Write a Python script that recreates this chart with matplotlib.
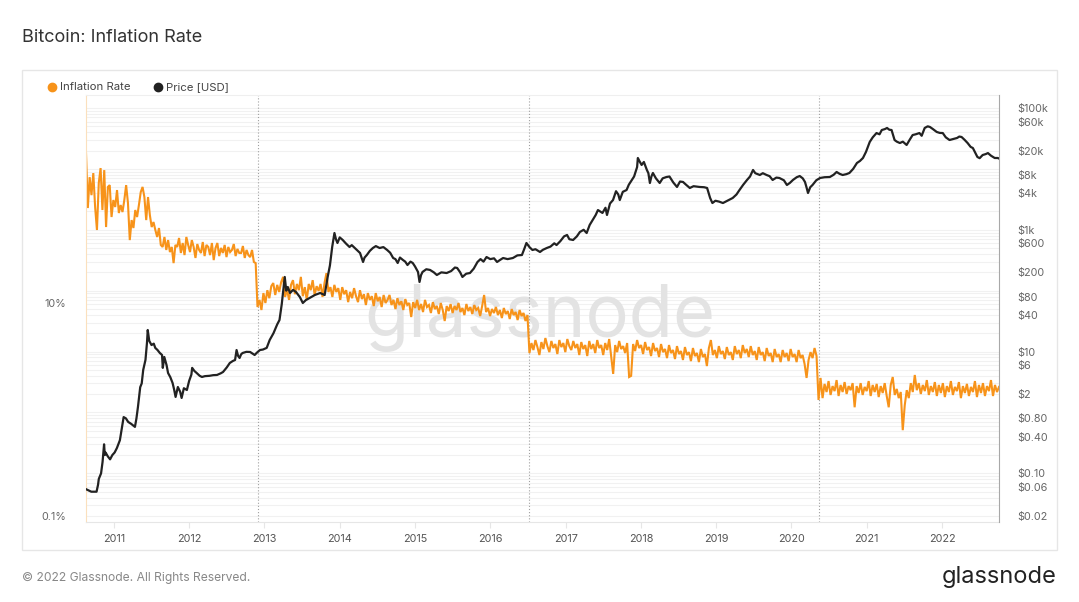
import matplotlib
matplotlib.use('Agg')
import matplotlib.pyplot as plt
import numpy as np
from matplotlib.lines import Line2D
from matplotlib.patches import Rectangle

plt.rcParams['font.family'] = ['Inter', 'DejaVu Sans']

# ---------------- data ----------------
halvings = [2012.908, 2016.52, 2020.36]
x_start, x_end = 2010.63, 2022.757
year_ticks = list(range(2011, 2023))
year_labels = [str(y) for y in year_ticks]

infl_ticks = [0.1, 10]
infl_tick_labels = ['0.1%', '10%']

price_ticks = [1e5, 6e4, 2e4, 8e3, 4e3, 1e3, 600, 200, 80, 40, 10, 6, 2, 0.8, 0.4, 0.1, 0.06, 0.02]
price_tick_labels = ['$100k', '$60k', '$20k', '$8k', '$4k', '$1k', '$600', '$200', '$80', '$40',
                     '$10', '$6', '$2', '$0.80', '$0.40', '$0.10', '$0.06', '$0.02']

# Inflation rate (%) per halving era, sampled evenly through each era
infl_era1 = [256, 78.0, 152, 103, 166, 79.7, 48.5, 134, 185, 74.7, 177, 51.7, 123, 128, 64.2, 92.7,
             79.7, 115, 70.0, 83.2, 71.5, 92.7, 128, 86.8, 39.0, 60.1, 50.6, 74.7, 64.2, 83.2, 110, 123,
             98.9, 60.1, 98.9, 67.0, 51.7, 57.6, 48.5, 41.7, 50.6, 35.1, 33.6, 41.7, 31.5, 39.0, 30.1,
             33.6, 23.7, 35.1, 33.6, 40.8, 29.5, 36.6, 28.2, 41.7, 35.1, 30.1, 39.0, 33.6, 26.5, 35.8,
             31.5, 29.5, 37.4, 27.6, 35.1, 33.6, 28.2, 36.6, 25.3, 32.9, 36.6, 27.6, 32.9, 29.5, 35.1,
             27.0, 33.6, 30.1, 31.5, 35.8, 27.6, 32.2, 29.5, 29.5, 34.3, 26.5, 31.5, 28.2, 27.0, 31.5,
             24.3, 23.7]
infl_era2 = [9.17, 10.7, 8.60, 12.4, 10.0, 13.2, 11.1, 14.4, 15.4, 11.9, 14.8, 12.7, 15.7, 17.6, 11.4,
             13.5, 10.7, 14.8, 16.4, 12.1, 15.1, 13.2, 17.6, 11.6, 14.1, 10.7, 15.1, 13.2, 16.4, 11.9,
             14.4, 13.0, 15.1, 11.4, 15.4, 19.1, 12.7, 14.1, 11.4, 14.8, 12.7, 13.8, 10.7, 14.1, 12.1,
             13.2, 10.2, 12.7, 11.1, 13.8, 11.6, 10.2, 13.2, 10.9, 12.1, 9.58, 12.4, 10.7, 11.6, 9.37,
             12.4, 10.4, 11.4, 9.17, 11.9, 10.0, 10.7, 11.9, 9.58, 10.7, 8.78, 11.1, 9.58, 10.4, 8.60,
             10.9, 9.58, 10.0, 7.39, 10.2, 8.98, 10.7, 8.60, 9.79, 8.23, 10.7, 9.17, 9.58, 8.06, 10.2,
             8.78, 9.37, 7.88, 10.0, 8.60, 6.78, 9.37, 8.41, 9.79, 8.06, 9.37, 8.60, 10.0, 8.23, 8.98,
             7.71, 9.79, 8.41, 9.17, 7.88, 9.58, 8.60, 8.98, 7.55, 9.37, 11.9, 8.23, 8.98, 7.55, 8.78,
             8.06, 9.17, 7.71, 8.60, 7.23, 8.98, 7.88, 8.41, 7.08, 8.78, 7.71, 8.23, 6.92, 8.60, 7.55,
             8.06, 6.78, 7.71]
infl_era3 = [3.39, 4.21, 3.62, 4.49, 3.86, 3.25, 4.30, 3.70, 4.69, 3.94, 3.46, 4.40, 3.78, 4.12, 3.32,
             4.49, 3.86, 4.21, 3.46, 4.59, 3.94, 3.62, 4.40, 3.78, 4.12, 3.25, 4.30, 3.70, 4.03, 3.18,
             4.40, 3.70, 4.12, 3.39, 4.49, 3.78, 4.03, 3.25, 4.21, 3.62, 4.59, 3.18, 2.16, 4.03, 3.46,
             4.40, 3.70, 3.94, 3.39, 4.21, 2.02, 2.07, 4.12, 3.54, 4.49, 3.78, 4.03, 3.32, 4.30, 3.62,
             3.86, 3.18, 4.21, 3.54, 3.78, 3.11, 4.12, 3.46, 3.70, 3.04, 4.03, 3.39, 3.62, 2.98, 3.94,
             3.32, 3.54, 2.92, 3.86, 3.25, 3.46, 2.85, 3.78, 3.18, 3.39, 2.79, 3.70, 3.11, 3.32, 2.56,
             3.78, 4.49, 3.25, 3.62, 3.04, 3.94, 3.32, 3.54, 2.98, 3.86, 3.25, 3.46, 2.92, 3.94, 3.32,
             3.62, 3.04, 4.03, 3.39, 3.70, 3.11, 3.94, 3.25, 3.54, 2.92, 3.86, 3.25, 3.46, 2.85, 3.78,
             3.18, 3.39, 2.79, 3.70, 3.11, 3.32, 2.79, 3.62, 3.11, 3.39, 2.85, 3.70, 3.11, 3.32, 2.79,
             3.62, 3.04, 3.25, 2.68, 1.98, 2.92, 3.46, 3.04, 3.78, 3.18]
infl_era4 = [1.23, 1.98, 1.28, 1.74, 1.46, 1.85, 1.37, 1.66, 1.49, 1.89, 1.34, 1.70, 1.46, 1.81, 1.40,
             1.66, 1.52, 1.77, 1.05, 1.66, 1.43, 1.77, 1.37, 1.63, 1.49, 1.85, 1.34, 1.70, 1.46, 1.74,
             1.31, 1.66, 1.43, 1.77, 1.34, 1.05, 1.70, 2.02, 1.37, 1.56, 1.28, 1.46, 0.64, 1.10, 1.52,
             1.28, 1.77, 1.46, 2.11, 1.52, 1.77, 1.40, 1.70, 1.49, 1.89, 1.37, 1.66, 1.46, 1.81, 1.34,
             1.70, 1.43, 1.77, 1.31, 1.66, 1.46, 1.85, 1.37, 1.63, 1.49, 1.81, 1.28, 1.66, 1.43, 1.74,
             1.34, 1.63, 1.46, 1.85, 1.31, 1.70, 1.43, 1.77, 1.34, 1.66, 1.49, 1.89, 1.34, 1.70, 1.46,
             1.63]

price_years = [2010.63, 2010.70, 2010.77, 2010.79, 2010.80, 2010.83, 2010.85, 2010.87, 2010.88, 2010.89,
               2010.92, 2010.95, 2010.98, 2011.01, 2011.04, 2011.08, 2011.10, 2011.13, 2011.16, 2011.19,
               2011.23, 2011.28, 2011.30, 2011.32, 2011.35, 2011.37, 2011.39, 2011.42, 2011.44, 2011.45,
               2011.47, 2011.50, 2011.53, 2011.55, 2011.58, 2011.61, 2011.64, 2011.65, 2011.67, 2011.70,
               2011.72, 2011.75, 2011.78, 2011.80, 2011.82, 2011.84, 2011.85, 2011.88, 2011.90, 2011.93,
               2011.97, 2012.00, 2012.03, 2012.04, 2012.07, 2012.10, 2012.14, 2012.17, 2012.21, 2012.27,
               2012.32, 2012.37, 2012.42, 2012.45, 2012.50, 2012.54, 2012.58, 2012.61, 2012.63, 2012.65,
               2012.67, 2012.69, 2012.71, 2012.76, 2012.81, 2012.84, 2012.87, 2012.90, 2012.94, 2012.98,
               2013.03, 2013.07, 2013.12, 2013.17, 2013.20, 2013.23, 2013.25, 2013.27, 2013.29, 2013.31,
               2013.34, 2013.38, 2013.42, 2013.47, 2013.51, 2013.55, 2013.60, 2013.67, 2013.74, 2013.80,
               2013.84, 2013.87, 2013.90, 2013.93, 2013.95, 2013.97, 2014.00, 2014.04, 2014.08, 2014.13,
               2014.16, 2014.20, 2014.24, 2014.27, 2014.31, 2014.33, 2014.36, 2014.40, 2014.44, 2014.48,
               2014.53, 2014.58, 2014.63, 2014.67, 2014.71, 2014.74, 2014.77, 2014.80, 2014.84, 2014.87,
               2014.90, 2014.94, 2014.97, 2015.00, 2015.04, 2015.06, 2015.08, 2015.10, 2015.15, 2015.20,
               2015.25, 2015.29, 2015.35, 2015.42, 2015.48, 2015.53, 2015.56, 2015.60, 2015.63, 2015.68,
               2015.73, 2015.78, 2015.83, 2015.87, 2015.91, 2015.95, 2016.00, 2016.05, 2016.09, 2016.13,
               2016.17, 2016.23, 2016.30, 2016.36, 2016.42, 2016.45, 2016.48, 2016.52, 2016.56, 2016.60,
               2016.66, 2016.70, 2016.75, 2016.80, 2016.85, 2016.88, 2016.93, 2016.98, 2017.02, 2017.05,
               2017.10, 2017.15, 2017.19, 2017.24, 2017.28, 2017.32, 2017.36, 2017.40, 2017.43, 2017.46,
               2017.49, 2017.53, 2017.55, 2017.59, 2017.63, 2017.67, 2017.70, 2017.72, 2017.76, 2017.81,
               2017.84, 2017.88, 2017.91, 2017.95, 2017.96, 2017.98, 2018.01, 2018.04, 2018.08, 2018.10,
               2018.12, 2018.14, 2018.16, 2018.20, 2018.25, 2018.29, 2018.34, 2018.38, 2018.43, 2018.48,
               2018.52, 2018.56, 2018.60, 2018.65, 2018.70, 2018.78, 2018.84, 2018.88, 2018.90, 2018.92,
               2018.95, 2018.99, 2019.04, 2019.09, 2019.15, 2019.22, 2019.27, 2019.31, 2019.36, 2019.41,
               2019.45, 2019.49, 2019.52, 2019.55, 2019.58, 2019.62, 2019.67, 2019.71, 2019.75, 2019.80,
               2019.84, 2019.90, 2019.94, 2019.98, 2020.02, 2020.07, 2020.11, 2020.15, 2020.18, 2020.20,
               2020.22, 2020.25, 2020.28, 2020.33, 2020.38, 2020.44, 2020.51, 2020.56, 2020.60, 2020.64,
               2020.68, 2020.73, 2020.77, 2020.82, 2020.87, 2020.91, 2020.95, 2020.99, 2021.04, 2021.08,
               2021.13, 2021.17, 2021.20, 2021.24, 2021.27, 2021.30, 2021.33, 2021.35, 2021.37, 2021.40,
               2021.44, 2021.48, 2021.53, 2021.57, 2021.61, 2021.65, 2021.70, 2021.73, 2021.77, 2021.81,
               2021.84, 2021.88, 2021.93, 2021.97, 2022.01, 2022.05, 2022.10, 2022.15, 2022.20, 2022.23,
               2022.26, 2022.30, 2022.34, 2022.38, 2022.41, 2022.44, 2022.47, 2022.50, 2022.54, 2022.58,
               2022.61, 2022.65, 2022.70, 2022.74, 2022.757]
price_usd = [0.055, 0.050, 0.050, 0.065, 0.081, 0.10, 0.154, 0.30, 0.20, 0.22,
             0.19, 0.17, 0.20, 0.22, 0.26, 0.35, 0.50, 0.84, 0.80, 0.70,
             0.65, 0.58, 0.80, 1.23, 2.6, 3.0, 5.0, 7.3, 14, 22.6,
             15, 12.8, 13.5, 11.5, 10.6, 9.5, 8.8, 5.4, 8.15, 6.0,
             4.45, 3.8, 3.05, 2.4, 1.80, 2.3, 2.62, 2.2, 1.73, 2.5,
             2.34, 3.3, 4.2, 5.4, 4.8, 4.45, 4.0, 3.83, 3.95, 4.0,
             4.1, 4.13, 4.4, 4.62, 5.5, 6.5, 7.0, 7.28, 10.6, 8.5,
             7.85, 9.0, 9.48, 9.9, 9.85, 9.3, 8.79, 9.6, 10.6, 10.8,
             11.5, 15.5, 20, 28, 33, 60, 100, 168, 100, 115,
             91.6, 103, 95, 78.8, 62.8, 70, 75.9, 85, 91.6, 84.9,
             168, 260, 522, 885, 700, 607, 750, 680, 600, 522,
             560, 502, 450, 416, 296, 350, 385, 450, 502, 540,
             502, 520, 466, 420, 344, 330, 285, 350, 319, 300,
             264, 300, 285, 250, 203, 139, 180, 203, 225, 219,
             200, 181, 200, 195, 210, 240, 236, 200, 168, 190,
             195, 230, 296, 330, 300, 357, 330, 340, 296, 320,
             344, 330, 344, 380, 385, 480, 607, 520, 466, 480,
             432, 470, 502, 530, 600, 562, 650, 780, 822, 700,
             680, 780, 920, 1000, 885, 1200, 1450, 1750, 2110, 2000,
             1890, 2300, 1750, 2700, 3080, 4300, 3800, 3080, 4200, 4500,
             5500, 6580, 7500, 10700, 15100, 13500, 11600, 13000, 9600, 8500,
             5870, 7500, 8570, 7000, 5870, 7000, 7360, 7500, 6000, 5050,
             6200, 6100, 5500, 4860, 5200, 5050, 5000, 4860, 4000, 3330,
             2750, 3000, 2900, 2750, 3000, 3330, 3800, 4500, 5500, 6580,
             7500, 9600, 8500, 8200, 7940, 8500, 7940, 7600, 6580, 7200,
             7090, 6500, 5440, 5900, 6580, 7300, 7640, 7000, 6100, 5000,
             4020, 5000, 5440, 6500, 7090, 7300, 7360, 8000, 8900, 8300,
             7940, 8200, 8570, 10000, 12500, 13500, 15100, 19000, 27700, 33000,
             38800, 37000, 43500, 45000, 47000, 44000, 43500, 36000, 29800, 28000,
             26600, 28000, 24700, 30000, 36000, 37000, 38800, 35000, 47000, 50000,
             48800, 45000, 40400, 39000, 38800, 33000, 29800, 31000, 32200, 34000,
             33400, 30000, 26600, 23000, 22000, 18500, 15700, 15000, 16900, 17500,
             18200, 16500, 15100, 15100, 14800]

# ---------------- figure ----------------
W, H = 1079, 602
fig = plt.figure(figsize=(W / 100, H / 100), dpi=100)
fig.patch.set_facecolor('white')

def fx(px):
    return px / W

def fy(py):
    return 1 - py / H

panel = Rectangle((fx(22), fy(550)), fx(1057) - fx(22), fy(70) - fy(550), transform=fig.transFigure,
                  facecolor='white', edgecolor='#e6e6e6', lw=1.0, zorder=-5)
fig.add_artist(panel)

ax = fig.add_axes([fx(86), fy(522), fx(999) - fx(86), fy(95) - fy(522)])
ax2 = ax.twinx()

infl_lo, infl_hi = 0.0879, 898
price_lo, price_hi = 0.0159, 163500

# inflation series
bounds = [x_start] + halvings + [x_end]
eras = [infl_era1, infl_era2, infl_era3, infl_era4]
infl_years = []
infl_vals = []
for k, era in enumerate(eras):
    last = (k == len(eras) - 1)
    yrs = np.linspace(bounds[k], bounds[k + 1], len(era), endpoint=last)
    infl_years.extend(yrs)
    infl_vals.extend(era)

ax.set_xlim(x_start, x_end)
ax.set_yscale('log')
ax.set_ylim(infl_lo, infl_hi)
ax2.set_yscale('log')
ax2.set_ylim(price_lo, price_hi)

# grid lines (price axis, minor decades)
lp0, lp1 = np.log10(price_lo), np.log10(price_hi)
for d in range(-2, 6):
    for m in range(1, 10):
        p = m * 10.0 ** d
        if price_lo < p < price_hi:
            f = (np.log10(p) - lp0) / (lp1 - lp0)
            ax.plot([0, 1], [f, f], transform=ax.transAxes, color='#f1f1f1', lw=0.8, zorder=0.3)

# watermark
ax.text((540 - 86) / 913, (522 - 318) / 427, 'glassnode', transform=ax.transAxes, fontsize=52,
        color='#e3e3e3', ha='center', va='center', zorder=0.5)

for h in halvings:
    ax.axvline(h, color='#a0a0a0', ls=(0, (1, 1.8)), lw=0.8, zorder=1)

ax.plot(infl_years, infl_vals, color='#f7931a', lw=1.5, zorder=2, solid_joinstyle='miter')
ax2.plot(price_years, price_usd, color='#222222', lw=1.6, zorder=3, solid_joinstyle='round')

# axes styling
ax.set_yticks(infl_ticks)
ax.set_yticklabels(infl_tick_labels)
ax.yaxis.set_minor_locator(matplotlib.ticker.NullLocator())
ax.tick_params(axis='y', length=0, pad=14, labelsize=7.8, labelcolor='#666666')
ax.set_xticks(year_ticks)
ax.set_xticklabels(year_labels)
ax.tick_params(axis='x', length=4, color='#e6e6e6', pad=5, labelsize=7.8, labelcolor='#555555')

ax2.set_yticks(price_ticks)
ax2.set_yticklabels(price_tick_labels)
ax2.yaxis.set_minor_locator(matplotlib.ticker.NullLocator())
ax2.tick_params(axis='y', length=0, pad=13, labelsize=7.8, labelcolor='#666666')

ax.spines['top'].set_color('#efefef')
ax.spines['bottom'].set_color('#e6e6e6')
ax.spines['left'].set_color('#fbe0bd')
ax.spines['right'].set_visible(False)
for s in ['top', 'bottom', 'left']:
    ax2.spines[s].set_visible(False)
ax2.spines['right'].set_color('#a8a8a8')
ax2.spines['right'].set_linewidth(0.8)

# title, legend, footer
fig.text(fx(22), fy(37), 'Bitcoin: Inflation Rate', fontsize=13, color='#333333', va='center', ha='left')

fig.add_artist(Line2D([fx(52)], [fy(87)], marker='o', markersize=6, color='#f7931a', lw=0,
                      transform=fig.transFigure))
fig.text(fx(60), fy(87), 'Inflation Rate', fontsize=8.2, color='#444444', va='center', ha='left')
fig.add_artist(Line2D([fx(158)], [fy(87)], marker='o', markersize=6, color='#222222', lw=0,
                      transform=fig.transFigure))
fig.text(fx(166), fy(87), 'Price [USD]', fontsize=8.2, color='#444444', va='center', ha='left')

fig.text(fx(22), fy(578), '\u00a9 2022 Glassnode. All Rights Reserved.', fontsize=8.7, color='#888888',
         va='center', ha='left')
fig.text(fx(1057), fy(577), 'glassnode', fontsize=17, color='#222222', va='center', ha='right')

fig.savefig('out.png', dpi=100, facecolor='white')
